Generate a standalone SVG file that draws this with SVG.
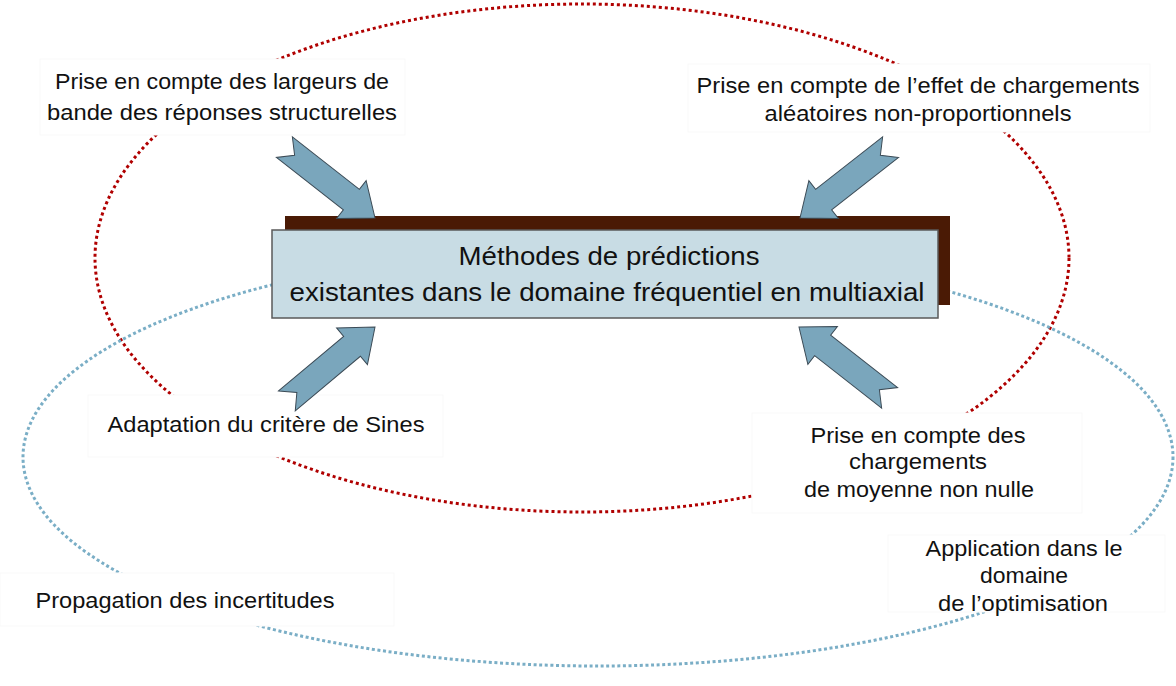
<svg xmlns="http://www.w3.org/2000/svg" width="1176" height="686" viewBox="0 0 1176 686">
<style>
.lbl{font-family:"Liberation Sans",Arial,sans-serif;font-size:22px;fill:#111;text-anchor:middle}
.main{font-family:"Liberation Sans",Arial,sans-serif;font-size:26px;fill:#111;text-anchor:middle}
.lbox{fill:#fff;stroke:#f9f9f9;stroke-width:1}
.red{fill:none;stroke:#b00000;stroke-width:3;stroke-dasharray:3 3}
.blue{fill:none;stroke:#7aaec6;stroke-width:3;stroke-dasharray:3 2.6}
.arr{fill:#7aa6bc;stroke:#3c4b56;stroke-width:1}
</style>
<defs>
<path id="blk" d="M-115,-13 L-102,0 L-115,13 L-30,13 L-30,24 L0,0 L-30,-24 L-30,-13 Z"/>
</defs>
<rect width="1176" height="686" fill="#fff"/>
<g id="ellipses">
<ellipse class="red" cx="582" cy="258" rx="487" ry="254"/>
<ellipse class="blue" cx="598" cy="457" rx="575" ry="209"/>
</g>
<g id="n-largeurs">
<rect class="lbox" x="40" y="59" width="365" height="76"/>
<text class="lbl" x="222" y="89" textLength="334" lengthAdjust="spacingAndGlyphs">Prise en compte des largeurs de</text>
<text class="lbl" x="222" y="120" textLength="350" lengthAdjust="spacingAndGlyphs">bande des réponses structurelles</text>
</g>
<g id="n-aleatoires">
<rect class="lbox" x="688" y="64" width="462" height="68"/>
<text class="lbl" x="918" y="93" textLength="443" lengthAdjust="spacingAndGlyphs">Prise en compte de l’effet de chargements</text>
<text class="lbl" x="918" y="121" textLength="307" lengthAdjust="spacingAndGlyphs">aléatoires non-proportionnels</text>
</g>
<g id="n-sines">
<rect class="lbox" x="88" y="395" width="355" height="62"/>
<text class="lbl" x="266" y="432" textLength="317" lengthAdjust="spacingAndGlyphs">Adaptation du critère de Sines</text>
</g>
<g id="n-moyenne">
<rect class="lbox" x="752" y="413" width="330" height="100"/>
<text class="lbl" x="918" y="443" textLength="215" lengthAdjust="spacingAndGlyphs">Prise en compte des</text>
<text class="lbl" x="918" y="469" textLength="138" lengthAdjust="spacingAndGlyphs">chargements</text>
<text class="lbl" x="919" y="497" textLength="230" lengthAdjust="spacingAndGlyphs">de moyenne non nulle</text>
</g>
<g id="n-optimisation">
<rect class="lbox" x="888" y="535" width="277" height="77"/>
<text class="lbl" x="1024" y="556" textLength="197" lengthAdjust="spacingAndGlyphs">Application dans le</text>
<text class="lbl" x="1024" y="583" textLength="88" lengthAdjust="spacingAndGlyphs">domaine</text>
<text class="lbl" x="1023" y="611" textLength="170" lengthAdjust="spacingAndGlyphs">de l’optimisation</text>
</g>
<g id="n-incertitudes">
<rect class="lbox" x="0" y="573" width="394" height="53"/>
<text class="lbl" x="185" y="608" textLength="299" lengthAdjust="spacingAndGlyphs">Propagation des incertitudes</text>
</g>
<g id="n-center">
<rect x="285" y="216" width="665" height="89" fill="#4a1a05"/>
<rect x="272" y="230" width="666" height="88" fill="#c8dce4" stroke="#5a5a5a" stroke-width="1.5"/>
<text class="main" x="609" y="265" textLength="301" lengthAdjust="spacingAndGlyphs">Méthodes de prédictions</text>
<text class="main" x="607" y="301" textLength="635" lengthAdjust="spacingAndGlyphs">existantes dans le domaine fréquentiel en multiaxial</text>
</g>
<g id="connectors">
<use href="#blk" class="arr" transform="translate(375,218) rotate(38)"/>
<use href="#blk" class="arr" transform="translate(800,218) rotate(142)"/>
<use href="#blk" class="arr" transform="translate(375,327) rotate(-40)"/>
<use href="#blk" class="arr" transform="translate(799,327) rotate(-142)"/>
</g>
</svg>
